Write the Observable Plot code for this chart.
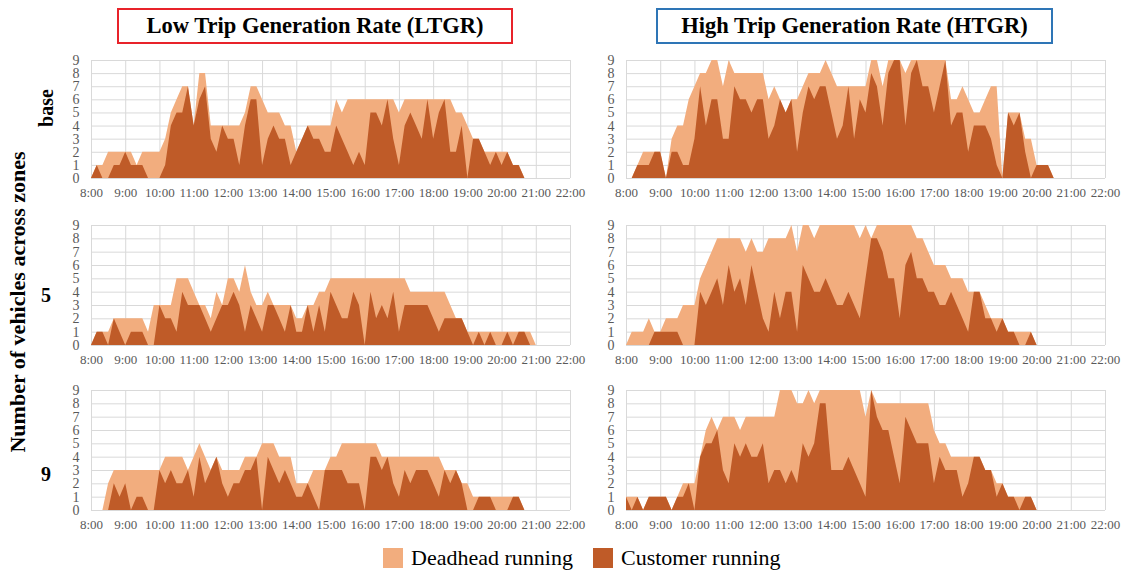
<!DOCTYPE html>
<html><head><meta charset="utf-8">
<script src="https://cdn.jsdelivr.net/npm/d3@7"></script>
<script src="https://cdn.jsdelivr.net/npm/@observablehq/plot@0.6"></script>
<style>
body{margin:0;background:#fff;}
#wrap{position:relative;width:1126px;height:574px;overflow:hidden;font-family:"Liberation Serif","Times New Roman",serif;color:#000;}
.panel{position:absolute;}
.ttl{position:absolute;top:8px;height:36px;box-sizing:border-box;border:2.5px solid;font-weight:bold;font-size:22.5px;text-align:center;line-height:31px;white-space:nowrap;}
.rowlab{position:absolute;font-weight:bold;font-size:20px;transform:translate(-50%,-50%);white-space:nowrap;}
.leg{position:absolute;top:546px;font-size:22px;line-height:24px;white-space:nowrap;}
.sw{display:inline-block;width:20px;height:20px;vertical-align:-3px;margin-right:8px;}
</style>
</head><body>
<div id="wrap">
  <div class="ttl" style="left:117px;width:396px;border-color:#e8232a;">Low Trip Generation Rate (LTGR)</div>
  <div class="ttl" style="left:656px;width:397px;border-color:#2e75b6;">High Trip Generation Rate (HTGR)</div>
  <div class="rowlab" style="left:18px;top:302px;transform:translate(-50%,-50%) rotate(-90deg);font-size:22px;">Number of vehicles across zones</div>
  <div class="rowlab" style="left:46px;top:108px;transform:translate(-50%,-50%) rotate(-90deg);">base</div>
  <div class="rowlab" style="left:46px;top:295px;">5</div>
  <div class="rowlab" style="left:46px;top:474px;">9</div>
  <div class="leg" style="left:383px;"><span class="sw" id="sw1"></span>Deadhead running</div>
  <div class="leg" style="left:593px;"><span class="sw" id="sw2"></span>Customer running</div>
</div>
<script>
// ---- data: 10-minute samples starting at 8:00 ----
const startHour = 8;
const stepMinutes = 10;
const hourLabels = ["8:00","9:00","10:00","11:00","12:00","13:00","14:00","15:00","16:00","17:00","18:00","19:00","20:00","21:00","22:00"];
const yTicks = [0,1,2,3,4,5,6,7,8,9];
const seriesNames = ["Deadhead running", "Customer running"];

const ltgrBaseDeadhead = [0,1,1,2,2,2,2,2,1,2,2,2,2,3,5,6,7,7,4,8,8,4,4,4,4,4,4,5,7,7,6,5,5,5,4,4,2,3,4,4,4,4,4,
  6,5,6,6,6,6,6,6,6,6,6,5,6,6,6,6,6,6,6,6,6,5,5,4,3,3,2,2,2,2,2,1,1,0,0,0];
const ltgrBaseCustomer = [0,1,0,0,1,1,2,1,1,1,0,0,0,1,4,5,5,7,4,6,7,3,2,4,3,3,1,4,6,6,1,3,4,3,3,1,2,3,4,3,3,2,2,
  4,3,2,1,2,1,5,5,4,6,3,1,4,5,4,3,6,3,5,6,2,2,4,0,3,3,2,1,2,1,2,1,1,0,0,0];

const htgrBaseDeadhead = [0,0,1,2,2,2,2,0,3,4,4,6,7,8,8,9,9,7,9,8,8,8,8,8,8,6,7,6,5,6,6,7,8,8,8,9,8,7,7,7,7,7,7,
  9,9,7,9,9,9,8,9,9,9,9,9,9,9,6,6,7,6,5,5,6,7,7,0,5,5,5,3,3,1,1,1,0,0,0,0];
const htgrBaseCustomer = [0,0,1,1,1,2,2,0,2,2,1,1,3,7,4,6,6,3,3,7,6,6,5,6,6,3,4,6,5,6,2,5,7,6,7,7,5,3,4,7,3,6,5,
  8,7,4,8,9,9,4,8,9,7,7,5,7,9,4,5,5,2,4,4,4,3,1,0,5,4,5,2,0,1,1,1,0,0,0,0];

const ltgr5Deadhead = [0,1,1,1,2,2,2,2,2,2,1,3,3,3,3,5,5,5,4,3,3,2,4,3,5,5,4,6,4,3,3,4,3,3,3,3,2,2,3,3,4,4,5,
  5,5,5,5,5,5,5,5,5,5,5,5,5,4,4,4,4,4,4,4,3,2,2,1,1,1,1,1,1,1,1,1,1,1,1,0];
const ltgr5Customer = [0,1,1,0,2,1,0,1,1,1,0,0,3,2,2,1,4,3,3,3,2,1,2,3,3,4,3,1,3,2,1,3,3,2,1,3,1,1,3,1,3,1,4,
  3,2,2,4,3,0,4,2,3,2,4,1,3,3,3,3,3,2,1,2,2,2,2,1,0,1,0,1,0,0,1,0,1,1,0,0];

const htgr5Deadhead = [0,1,1,1,2,1,1,2,2,2,3,3,3,5,6,7,8,8,8,8,8,7,8,7,7,8,8,8,8,9,7,9,9,8,9,9,9,9,9,9,9,8,9,
  8,9,9,9,9,9,9,9,8,8,7,6,6,6,5,5,5,4,4,4,3,2,2,2,1,1,1,1,1,0,0,0,0,0,0,0];
const htgr5Customer = [0,0,0,0,0,1,1,1,1,1,0,0,0,4,3,4,5,3,6,4,5,3,6,4,2,1,4,2,4,4,1,6,5,4,4,5,4,3,3,4,3,2,5,
  8,8,7,5,5,2,6,7,5,5,4,4,3,3,4,3,2,1,4,4,2,2,1,2,1,1,0,0,1,0,0,0,0,0,0,0];

const ltgr9Deadhead = [0,0,0,2,3,3,3,3,3,3,3,3,3,4,4,4,4,3,4,5,4,3,4,3,3,3,3,4,4,4,5,5,5,4,4,4,2,2,2,3,3,3,4,
  4,5,5,5,5,5,5,5,4,4,4,4,4,4,4,4,4,4,4,3,3,3,2,2,1,1,1,1,1,1,1,1,1,0,0,0];
const ltgr9Customer = [0,0,0,0,2,1,2,0,1,1,0,0,3,2,3,2,2,3,1,4,2,3,4,2,1,2,2,3,3,4,0,4,3,2,3,2,1,1,2,1,0,3,3,
  3,3,2,2,2,0,4,4,3,4,2,1,3,2,3,3,3,2,1,3,2,3,2,0,0,1,1,1,0,0,0,1,1,0,0,0];

const htgr9Deadhead = [1,1,1,0,1,1,1,1,0,1,2,2,2,4,6,7,6,7,7,7,6,7,7,7,7,7,7,9,9,9,8,8,9,8,9,9,9,9,9,9,9,9,7,
  9,8,8,8,8,8,8,8,8,8,8,6,5,5,4,4,4,4,4,4,3,3,2,2,1,1,1,1,1,0,0,0,0,0,0,0];
const htgr9Customer = [1,0,1,0,1,1,1,1,0,1,1,2,0,4,5,5,6,3,2,5,4,5,4,4,5,2,3,3,2,3,2,5,4,5,8,8,3,3,3,4,3,2,1,
  9,7,6,6,4,2,7,6,5,5,5,2,4,3,3,3,1,2,4,4,3,3,1,2,1,1,0,1,1,0,0,0,0,0,0,0];

// ---- styling ----
const LIGHT = "#f2ad7e";
const DARK = "#bf5b28";
document.getElementById("sw1").style.background = LIGHT;
document.getElementById("sw2").style.background = DARK;

const panels = [
  {dead: ltgrBaseDeadhead, cust: ltgrBaseCustomer, left: 91, top: 60, h: 118},
  {dead: htgrBaseDeadhead, cust: htgrBaseCustomer, left: 626, top: 60, h: 118},
  {dead: ltgr5Deadhead, cust: ltgr5Customer, left: 91, top: 225, h: 120},
  {dead: htgr5Deadhead, cust: htgr5Customer, left: 626, top: 225, h: 120},
  {dead: ltgr9Deadhead, cust: ltgr9Customer, left: 91, top: 390, h: 120},
  {dead: htgr9Deadhead, cust: htgr9Customer, left: 626, top: 390, h: 120}
];

const hours = hourLabels.map((_, i) => startHour + i);
const mL = 30, mR = 20, mT = 8, mB = 26, frameW = 479;
const wrap = document.getElementById("wrap");

for (const p of panels) {
  const rows = p.cust.map((c, i) => ({t: startHour + i * stepMinutes / 60, customer: c, deadhead: p.dead[i]}));
  const chart = Plot.plot({
    width: mL + frameW + mR,
    height: mT + p.h + mB,
    marginLeft: mL, marginRight: mR, marginTop: mT, marginBottom: mB,
    style: {fontFamily: "'Liberation Serif', 'Times New Roman', serif", background: "transparent", color: "#595959", overflow: "visible"},
    x: {domain: [hours[0], hours[hours.length - 1]], label: null},
    y: {domain: [0, 9], label: null},
    marks: [
      Plot.gridX(hours, {stroke: "#d9d9d9", strokeOpacity: 1, strokeWidth: 1}),
      Plot.gridY(yTicks, {stroke: "#d9d9d9", strokeOpacity: 1, strokeWidth: 1}),
      Plot.areaY(rows, {x: "t", y: "deadhead", fill: LIGHT}),
      Plot.areaY(rows, {x: "t", y: "customer", fill: DARK}),
      Plot.axisX(hours, {tickSize: 0, tickPadding: 9, fontSize: 13, fill: "#595959", tickFormat: h => hourLabels[h - startHour], label: null}),
      Plot.axisY(yTicks, {tickSize: 0, tickPadding: 12, fontSize: 14, fill: "#595959", label: null})
    ]
  });
  chart.classList.add("panel");
  chart.style.left = (p.left - mL) + "px";
  chart.style.top = (p.top - mT) + "px";
  wrap.appendChild(chart);
}
</script>
</body></html>
